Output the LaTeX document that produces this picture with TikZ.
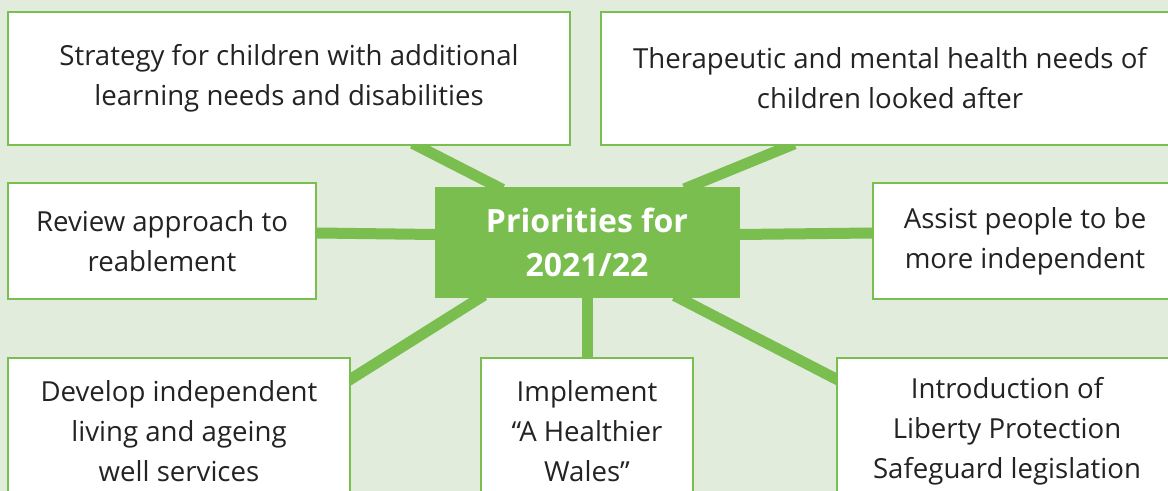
\documentclass[tikz,border=0pt]{standalone}
\usepackage{fontspec}
\setmainfont{Open Sans}
\usetikzlibrary{calc,positioning}
\definecolor{prgreen}{RGB}{122,190,80}
\definecolor{prback}{RGB}{225,236,220}
\definecolor{prtext}{RGB}{35,35,35}
\pgfdeclarelayer{bg}
\pgfsetlayers{bg,main}
\tikzset{
  itembox/.style={draw=prgreen, line width=1.1pt, fill=white, align=center,
    inner sep=0pt, text=prtext, font=\fontsize{13.8}{20}\selectfont},
  hubbox/.style={fill=prgreen, text=white, align=center, inner sep=0pt,
    font=\fontsize{16}{22}\selectfont\bfseries},
  boxsize/.style 2 args={minimum width=#1*0.5pt, minimum height=#2*0.5pt},
  link/.style={draw=prgreen, line width=5.5pt, shorten <=-3pt, shorten >=-3pt},
}

\begin{document}
\begin{tikzpicture}[x=0.5pt,y=-0.5pt]
    \useasboundingbox (0,0) rectangle (1168,491);
    \clip (0,0) rectangle (1168,491);

    % Centre
    \node[hubbox, boxsize={305}{111}] (hub) at (587,242.5) {Priorities for\\2021/22};

    % Top row
    \node[itembox, boxsize={562}{133}] (strat) at (289,78.5)
        {Strategy for children with additional\\learning needs and disabilities};
    \node[itembox, boxsize={578}{133}] (ther) at (890,78.5)
        {Therapeutic and mental health needs of\\children looked after};

    % Middle row
    \node[itembox, boxsize={308}{116}] (rev) at (162,241)
        {Review approach to\\reablement};
    \node[itembox, boxsize={304}{116}] (assist) at (1025,241)
        {Assist people to be\\more independent};

    % Bottom row
    \node[itembox, boxsize={342}{146}] (dev) at (179,431)
        {Develop independent\\living and ageing\\well services};
    \node[itembox, boxsize={212}{146}] (impl) at (587,431)
        {Implement\\“A Healthier\\Wales”};
    \node[itembox, boxsize={340}{146}] (intro) at (1007,431)
        {Introduction of\\Liberty Protection\\Safeguard legislation};

    % Spokes
    \begin{pgfonlayer}{bg}
        \fill[prback] (0,0) rectangle (1168,491);
        \draw[link] ($(hub.north west)+(63,0)$) -- ($(strat.south west)+(411,0)$);
        \draw[link] ($(hub.north east)+(-50,0)$) -- ($(ther.south west)+(189,0)$);
        \draw[link] ($(hub.west)+(0,-8)$) -- ($(rev.east)+(0,-8)$);
        \draw[link] ($(hub.east)+(0,-8)$) -- ($(assist.west)+(0,-8)$);
        \draw[link] ($(hub.south west)+(45,0)$) -- ($(dev.north east)+(0,22)$);
        \draw[link] (hub.south) -- (impl.north);
        \draw[link] ($(hub.south east)+(-60,0)$) -- ($(intro.north west)+(0,22)$);
    \end{pgfonlayer}
\end{tikzpicture}
\end{document}
